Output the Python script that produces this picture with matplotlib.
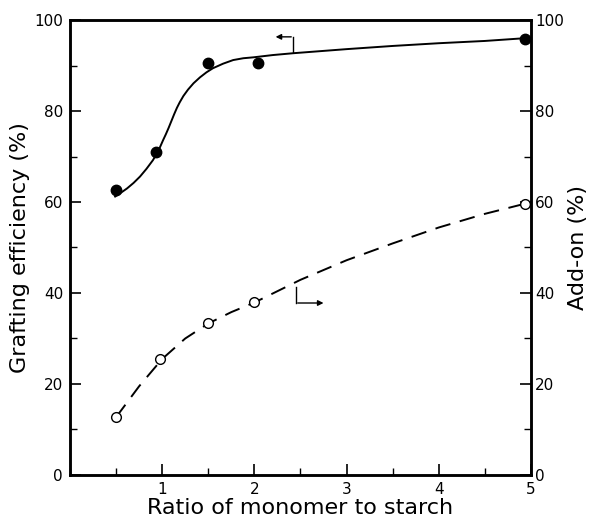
import matplotlib.pyplot as plt
from matplotlib.ticker import MultipleLocator

# measured points
ratio_ge = [0.5, 0.93, 1.5, 2.04, 4.93]
grafting_eff = [62.6, 71.0, 90.5, 90.5, 95.8]

ratio_add = [0.5, 0.98, 1.5, 2.0, 4.93]
add_on = [12.7, 25.5, 33.4, 38.0, 59.6]

# hand-drawn curves
curve_ge_x = [0.49, 0.55, 0.62, 0.69, 0.76, 0.83, 0.9, 0.96, 1.01, 1.04, 1.07, 1.1, 1.13,
              1.16, 1.19, 1.23, 1.28, 1.34, 1.41, 1.48, 1.55, 1.66, 1.77, 1.88, 1.99,
              2.2, 2.42, 3.0, 3.5, 4.0, 4.5, 4.93]
curve_ge_y = [61.2, 62.0, 63.0, 64.2, 65.6, 67.3, 69.2, 71.3, 73.6, 74.9, 76.3, 77.8, 79.3,
              80.7, 81.9, 83.3, 84.7, 86.1, 87.4, 88.5, 89.4, 90.4, 91.2, 91.6, 91.8,
              92.3, 92.7, 93.6, 94.3, 94.9, 95.4, 96.0]

curve_add_x = [0.5, 0.75, 1.0, 1.25, 1.5, 1.75, 2.0, 2.5, 3.0, 3.5, 4.0, 4.5, 4.93]
curve_add_y = [12.7, 19.5, 25.5, 30.0, 33.3, 35.8, 37.9, 42.9, 47.2, 50.9, 54.4, 57.4, 59.6]

plt.rcParams['font.family'] = ['DejaVu Sans']

fig = plt.figure(figsize=(5.9, 5.31), dpi=100)
ax = fig.add_axes([0.1186, 0.1055, 0.9 - 0.1186, 0.9623 - 0.1055])
ax2 = ax.twinx()

ax.plot(curve_ge_x, curve_ge_y, color='black', lw=1.4)
ax.plot(ratio_ge, grafting_eff, 'o', color='black', ms=7.5)

ax2.plot(curve_add_x, curve_add_y, color='black', lw=1.4, ls=(0, (8, 5)))
ax2.plot(ratio_add, add_on, 'o', mfc='white', mec='black', mew=1.0, ms=7)

# bracket arrows showing which axis each curve belongs to
ax.plot([2.42, 2.42], [93.0, 96.3], color='black', lw=1)
ax.annotate('', xy=(2.2, 96.3), xytext=(2.43, 96.3),
            arrowprops={'arrowstyle': '-|>', 'color': 'black', 'lw': 1, 'mutation_scale': 8})
ax.plot([2.45, 2.45], [37.8, 41.3], color='black', lw=1)
ax.annotate('', xy=(2.78, 37.8), xytext=(2.44, 37.8),
            arrowprops={'arrowstyle': '-|>', 'color': 'black', 'lw': 1, 'mutation_scale': 8})

for a in (ax, ax2):
    a.set_xlim(0, 5)
    a.set_ylim(0, 100)
    a.yaxis.set_major_locator(MultipleLocator(20))
    a.yaxis.set_minor_locator(MultipleLocator(10))
    for s in a.spines.values():
        s.set_linewidth(1.8)

ax.xaxis.set_major_locator(MultipleLocator(1))
ax.xaxis.set_minor_locator(MultipleLocator(0.5))
ax.set_xticks([1, 2, 3, 4, 5])
ax.tick_params(which='major', direction='in', length=8, width=1.2, labelsize=11, pad=5)
ax.tick_params(which='minor', direction='in', length=5, width=1)
ax.tick_params(axis='x', pad=5)
ax2.tick_params(which='major', direction='in', length=8, width=1.2, labelsize=11, pad=3)
ax2.tick_params(which='minor', direction='in', length=5, width=1)

ax.set_xlabel('Ratio of monomer to starch', fontsize=16, labelpad=1)
ax.set_ylabel('Grafting efficiency (%)', fontsize=16, labelpad=3)
ax2.set_ylabel('Add-on (%)', fontsize=16, labelpad=3)

fig.savefig('out.png', dpi=100)
